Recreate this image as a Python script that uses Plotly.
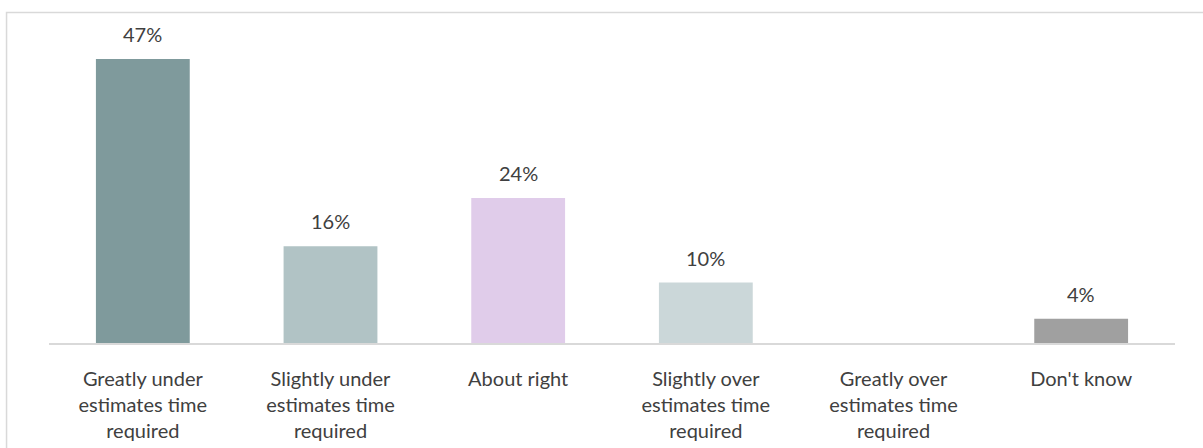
import plotly.graph_objects as go

categories = [
    "Greatly under<br>estimates time<br>required",
    "Slightly under<br>estimates time<br>required",
    "About right",
    "Slightly over<br>estimates time<br>required",
    "Greatly over<br>estimates time<br>required",
    "Don't know",
]
values = [47, 16, 24, 10, 0, 4]
labels = ["47%", "16%", "24%", "10%", "", "4%"]
colors = ["#7F9A9C", "#B1C3C5", "#E0CCEA", "#CBD7D9", "#B1C3C5", "#A0A0A0"]

FONT = "Lato, 'Open Sans', sans-serif"
TXT = "#404040"

fig = go.Figure()
fig.add_trace(go.Bar(
    x=categories, y=values,
    marker=dict(color=colors, line=dict(width=0)),
    hoverinfo="skip",
))

for c, v, t in zip(categories, values, labels):
    if t:
        fig.add_annotation(x=c, y=v, text=t, showarrow=False,
                           yanchor="bottom", yshift=11,
                           font=dict(family=FONT, size=20, color=TXT))

# outer chart frame (light grey border, extends past right/bottom edges)
fig.add_shape(type="rect", xref="paper", yref="paper",
              x0=-0.0377, x1=1.2, y0=-0.6, y1=1.0944,
              line=dict(color="#D9D9D9", width=1.5), fillcolor="rgba(0,0,0,0)",
              layer="below")

fig.update_layout(
    width=1203, height=448,
    margin=dict(l=49, r=28, t=41, b=105, autoexpand=False),
    paper_bgcolor="white", plot_bgcolor="white",
    bargap=0.5, showlegend=False,
    font=dict(family=FONT, size=20, color=TXT),
    xaxis=dict(showline=True, linecolor="#D9D9D9", linewidth=1.5,
               ticks="", showgrid=False, zeroline=False, automargin=False,
               tickfont=dict(family=FONT, size=20, color=TXT),
               ticklabelstandoff=17),
    yaxis=dict(range=[0, 50], visible=False, showgrid=False, zeroline=False,
               automargin=False),
)

fig.write_html("out.html")
